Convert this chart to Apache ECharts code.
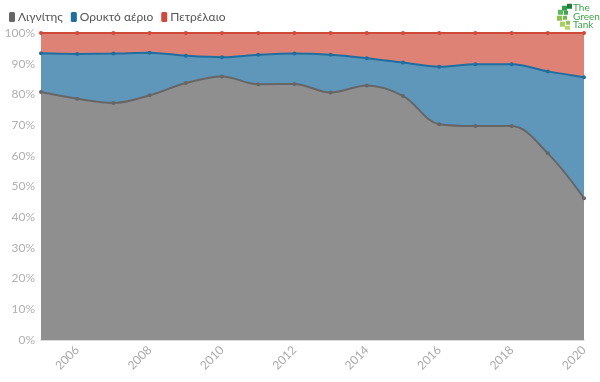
<!DOCTYPE html>
<html><head><meta charset="utf-8">
<script src="https://cdn.jsdelivr.net/npm/echarts@6/dist/echarts.min.js"></script>
<style>html,body{margin:0;padding:0;background:#fff}#c{width:600px;height:382px}</style>
</head><body><div id="c"></div>
<script>
const years = ['2005','2006','2007','2008','2009','2010','2011','2012','2013','2014','2015','2016','2017','2018','2019','2020'];
const lignite = [80.8, 78.6, 77.2, 79.7, 83.7, 85.8, 83.3, 83.4, 80.6, 82.9, 79.5, 70.3, 69.7, 69.7, 60.8, 46.2];
const gas = [12.6, 14.6, 16.1, 13.9, 8.9, 6.3, 9.6, 9.9, 12.3, 8.9, 10.9, 18.7, 20.1, 20.1, 26.7, 39.4];
const oil = [6.6, 6.8, 6.7, 6.4, 7.4, 7.9, 7.1, 6.7, 7.1, 8.2, 9.6, 11.0, 10.2, 10.2, 12.5, 14.4];
const yTicks = [0,10,20,30,40,50,60,70,80,90,100];

const chart = echarts.init(document.getElementById('c'));
function s(name, data, line, area) {
  return {
    name, type: 'line', stack: 'total', data, smooth: 0.35,
    symbol: 'circle', symbolSize: 4,
    itemStyle: { color: line },
    lineStyle: { color: line, width: 2 },
    areaStyle: { color: area, opacity: 1 },
    emphasis: { disabled: true }
  };
}
chart.setOption({
  animation: false,
  textStyle: { fontFamily: 'Lato, "Open Sans", sans-serif' },
  legend: {
    left: 4, top: 6, itemWidth: 6, itemHeight: 10, itemGap: 8,
    icon: 'roundRect',
    textStyle: { color: '#555', fontSize: 12, padding: [0, 0, 0, -2] },
    data: [
      { name: 'Λιγνίτης', itemStyle: { color: '#666' } },
      { name: 'Ορυκτό αέριο', itemStyle: { color: '#1f6ea0' } },
      { name: 'Πετρέλαιο', itemStyle: { color: '#d04a3a' } }
    ]
  },
  grid: { left: 41, right: 16, top: 33, bottom: 42 },
  xAxis: {
    type: 'category', data: years, boundaryGap: false,
    axisLine: { lineStyle: { color: '#d0d0d0', width: 1.5 } },
    axisTick: { show: false },
    axisLabel: {
      color: '#aaa', fontSize: 12, rotate: 45, margin: 8,
      interval: (i) => i % 2 === 1
    },
    splitLine: { show: false }
  },
  yAxis: {
    type: 'value', min: 0, max: 100, interval: 10,
    axisLine: { show: true, lineStyle: { color: '#e0e0e0' } },
    axisTick: { show: false },
    axisLabel: { color: '#b0b0b0', fontSize: 12, margin: 6,
      formatter: (v) => yTicks.includes(v) ? v + '%' : '' },
    splitLine: { show: true, lineStyle: { color: 'rgba(0,0,0,0.04)' } }
  },
  series: [
    s('Λιγνίτης', lignite, '#666666', '#8f8f8f'),
    s('Ορυκτό αέριο', gas, '#1f6ea0', '#5f97bb'),
    s('Πετρέλαιο', oil, '#d04a3a', '#de8276')
  ],
  graphic: [
    { type: 'group', left: 557, top: 3, children: [
      { type: 'rect', shape: { x: 10, y: 1, width: 5, height: 5 }, style: { fill: '#1e7d3c' } },
      { type: 'rect', shape: { x: 5, y: 3, width: 5, height: 5 }, style: { fill: '#2e9e48' } },
      { type: 'rect', shape: { x: 1, y: 7, width: 5, height: 5 }, style: { fill: '#5cb85c' } },
      { type: 'rect', shape: { x: 7, y: 8, width: 4, height: 4 }, style: { fill: '#3aa84a' } },
      { type: 'rect', shape: { x: 0, y: 13, width: 5, height: 5 }, style: { fill: '#8bc34a' } },
      { type: 'rect', shape: { x: 6, y: 13, width: 4, height: 4 }, style: { fill: '#6dbb4e' } },
      { type: 'rect', shape: { x: 3, y: 19, width: 5, height: 5 }, style: { fill: '#a5d15a' } },
      { type: 'rect', shape: { x: 9, y: 18, width: 4, height: 4 }, style: { fill: '#8cc850' } },
      { type: 'rect', shape: { x: 8, y: 23, width: 5, height: 4 }, style: { fill: '#b4d96a' } },
      { type: 'text', x: 16, y: 1, style: { text: 'The\nGreen\nTank', fill: '#3aa84a', font: '10px Lato, sans-serif', lineHeight: 8.5 } }
    ]}
  ]
});
</script></body></html>
